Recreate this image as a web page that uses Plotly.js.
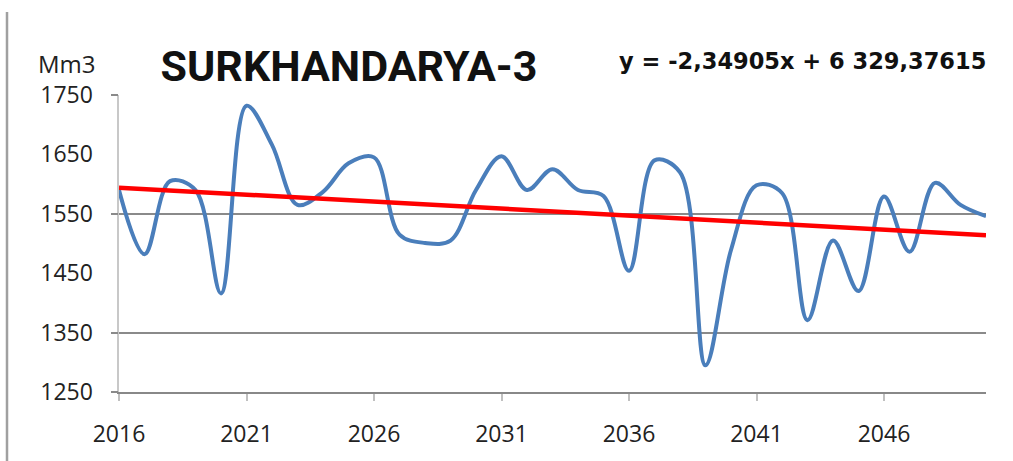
<!DOCTYPE html>
<html>
<head>
<meta charset="utf-8">
<script src="https://cdn.plot.ly/plotly-3.0.1.min.js"></script>
<style>html,body{margin:0;padding:0;background:#fff;}#chart{width:1013px;height:461px;}</style>
</head>
<body>
<div id="chart"></div>
<script>
// Data
const years = [2016,2017,2018,2019,2020,2021,2022,2023,2024,2025,2026,2027,2028,2029,2030,2031,2032,2033,2034,2035,2036,2037,2038,2039,2040,2041,2042,2043,2044,2045,2046,2047,2048,2049,2050];
const volumes = [1590,1482,1605,1590,1416,1732,1666,1565,1587,1635,1645,1515,1501,1505,1590,1647,1590,1625,1590,1580,1454,1640,1620,1295,1489,1598,1585,1371,1505,1420,1579,1486,1602,1565,1546];
const trendYears = [2016, 2050];
const trendValues = [1594, 1514];
const xTickVals = [2016,2021,2026,2031,2036,2041,2046];
const yTickVals = [1250,1350,1450,1550,1650,1750];
const gridVals = [1250,1350,1550,1750];
const chartTitle = "SURKHANDARYA-3";
const equationText = "y = -2,34905x + 6 329,37615";
const unitText = "Mm3";

const tickFont = {family: "Open Sans, sans-serif", size: 23, color: "#222"};

const traces = [
  {x: years, y: volumes, type: "scatter", mode: "lines",
   line: {color: "#4a7ebb", width: 4, shape: "spline", smoothing: 1}, xaxis: "x", yaxis: "y", hoverinfo: "x+y"},
  {x: trendYears, y: trendValues, type: "scatter", mode: "lines",
   line: {color: "#ff0000", width: 4.5}, xaxis: "x", yaxis: "y2", hoverinfo: "x+y"}
];

const layout = {
  width: 1013, height: 461,
  margin: {l: 119, r: 27, t: 95, b: 69, pad: 0},
  paper_bgcolor: "#ffffff", plot_bgcolor: "#ffffff",
  showlegend: false,
  title: {text: chartTitle, x: 349/1013, xanchor: "center", y: 1 - 66/461, yanchor: "middle",
          font: {family: "Roboto, sans-serif", size: 43, weight: 700, color: "#111"}},
  xaxis: {range: [2016, 2050], tickvals: xTickVals, ticktext: xTickVals.map(String),
          ticks: "outside", ticklen: 7, tickwidth: 2, tickcolor: "#c0c0c0",
          showline: true, linecolor: "#888888", linewidth: 2, showgrid: false, zeroline: false,
          tickfont: tickFont, ticklabelstandoff: 13},
  yaxis: {range: [1250, 1750], tickvals: yTickVals, ticktext: yTickVals.map(String),
          ticks: "", showline: true, linecolor: "#c8c8c8", linewidth: 2.5, showgrid: false, zeroline: false,
          tickfont: tickFont, ticklabelstandoff: 19},
  yaxis2: {range: [1250, 1750], overlaying: "y", side: "left", tickvals: gridVals,
           ticks: "outside", ticklen: 7, tickwidth: 2, tickcolor: "#8a8a8a",
           showticklabels: false, showgrid: true, gridcolor: "#8a8a8a", gridwidth: 2,
           showline: false, zeroline: false},
  shapes: [
    {type: "line", xref: "paper", yref: "paper", x0: (7-119)/867, x1: (7-119)/867,
     y0: -69/297, y1: (392-12)/297, line: {color: "#a0a0a0", width: 2.5}}
  ],
  annotations: [
    {text: equationText, xref: "paper", yref: "paper", x: (988-119)/867, y: (392-61)/297,
     xanchor: "right", yanchor: "middle", showarrow: false,
     font: {family: "DejaVu Sans, sans-serif", size: 22.5, weight: 700, color: "#111"}},
    {text: unitText, xref: "paper", yref: "paper", x: (67-119)/867, y: (392-64)/297,
     xanchor: "center", yanchor: "middle", showarrow: false,
     font: {family: "Open Sans, sans-serif", size: 24, color: "#222"}}
  ]
};

Plotly.newPlot("chart", traces, layout, {displayModeBar: false, staticPlot: true});
</script>
</body>
</html>
